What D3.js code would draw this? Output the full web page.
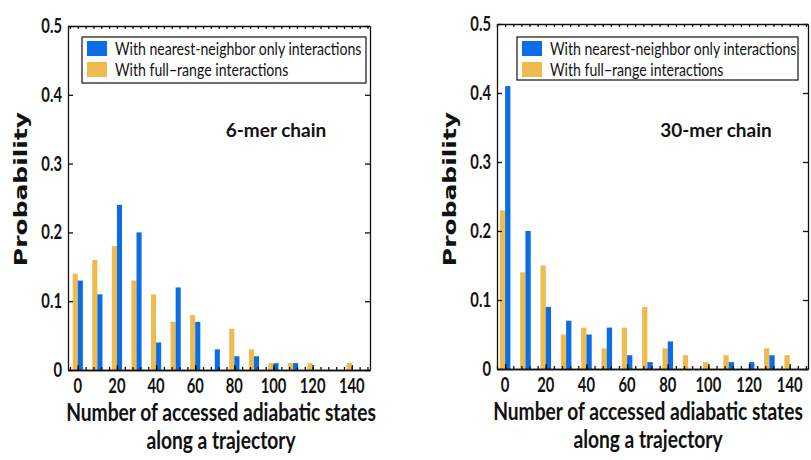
<!DOCTYPE html>
<html>
<head>
<meta charset="utf-8">
<script src="https://cdn.jsdelivr.net/npm/d3@7/dist/d3.min.js"></script>
<style>
  html, body { margin: 0; padding: 0; background: #fff; }
  svg { display: block; }
</style>
</head>
<body>
<svg id="chart" width="811" height="460"></svg>
<script>
// Number of accessed adiabatic states (bin starts)
const bins = [0, 10, 20, 30, 40, 50, 60, 70, 80, 90, 100, 110, 120, 130, 140];

// 6-mer chain
const sixMerNearest = [0.13, 0.11, 0.24, 0.20, 0.04, 0.12, 0.07, 0.03, 0.02, 0.02, 0.01, 0.01, 0, 0, 0];
const sixMerFull    = [0.14, 0.16, 0.18, 0.13, 0.11, 0.07, 0.08, 0, 0.06, 0.03, 0.01, 0.01, 0.01, 0, 0.01];

// 30-mer chain
const thirtyMerNearest = [0.41, 0.20, 0.09, 0.07, 0.05, 0.06, 0.02, 0.01, 0.04, 0, 0, 0.01, 0.01, 0.02, 0];
const thirtyMerFull    = [0.23, 0.14, 0.15, 0.05, 0.06, 0.03, 0.06, 0.09, 0.03, 0.02, 0.01, 0.02, 0, 0.03, 0.02];

const xTicks = [0, 20, 40, 60, 80, 100, 120, 140];
const yTicks = [0, 0.1, 0.2, 0.3, 0.4, 0.5];
const yTickLabels = ["0", "0.1", "0.2", "0.3", "0.4", "0.5"];

const seriesNames = ["With nearest-neighbor only interactions", "With full\u2212range interactions"];
const panelTitles = ["6-mer chain", "30-mer chain"];
const xLabelLines = ["Number of accessed adiabatic states", "along a trajectory"];
const yLabel = "Probability";

const BLUE = "#0a6de6";
const GOLD = "#edbb4e";
const FONT = "Lato, 'Open Sans', 'Liberation Sans', sans-serif";

const svg = d3.select("#chart");

// text drawn with a horizontal squeeze about its anchor point
function label(parent, x, y, str, opts) {
  const g = parent.append("g")
    .attr("transform", `translate(${x},${y}) scale(${opts.sx},1)`);
  return g.append("text")
    .attr("text-anchor", opts.anchor || "start")
    .attr("font-family", opts.family || FONT)
    .attr("font-size", opts.size)
    .attr("font-weight", opts.weight || 400)
    .attr("fill", "#111")
    .text(str);
}

function drawPanel(cfg) {
  const { left, right, top, bottom, xDomain, nearest, full, title, titleX, titleY, legend, yLabelX, xLabelX } = cfg;
  const g = svg.append("g");
  const x = d3.scaleLinear().domain(xDomain).range([left, right]);
  const y = d3.scaleLinear().domain([0, 0.5]).range([bottom, top]);
  const bw = 2.6; // bar width in data units

  // bars: full-range to the left of the bin position, nearest-neighbor to the right
  g.selectAll("rect.full").data(bins.map((b, i) => ({ b, v: full[i] })).filter(d => d.v > 0))
    .join("rect").attr("class", "full")
    .attr("x", d => x(d.b - bw)).attr("width", d => x(d.b) - x(d.b - bw))
    .attr("y", d => y(d.v)).attr("height", d => y(0) - y(d.v))
    .attr("fill", GOLD);
  g.selectAll("rect.near").data(bins.map((b, i) => ({ b, v: nearest[i] })).filter(d => d.v > 0))
    .join("rect").attr("class", "near")
    .attr("x", d => x(d.b)).attr("width", d => x(d.b + bw) - x(d.b))
    .attr("y", d => y(d.v)).attr("height", d => y(0) - y(d.v))
    .attr("fill", BLUE);

  // axes box with inward ticks
  const minor = d3.range(-4, xDomain[1], 4);
  const axB = d3.axisBottom(x).tickValues(minor).tickSizeInner(-3).tickSizeOuter(0).tickFormat("");
  const axT = d3.axisTop(x).tickValues(minor).tickSizeInner(-3).tickSizeOuter(0).tickFormat("");
  const axBMaj = d3.axisBottom(x).tickValues(xTicks).tickSizeInner(-5).tickSizeOuter(0).tickFormat("");
  const axL = d3.axisLeft(y).tickValues(yTicks).tickSizeInner(-5).tickSizeOuter(0).tickFormat("");
  const axR = d3.axisRight(y).tickValues(yTicks).tickSizeInner(-5).tickSizeOuter(0).tickFormat("");
  [[axB, `0,${bottom}`], [axBMaj, `0,${bottom}`], [axT, `0,${top}`], [axL, `${left},0`], [axR, `${right},0`]]
    .forEach(([ax, t]) => {
      const a = g.append("g").attr("transform", `translate(${t})`).call(ax);
      a.selectAll("path, line").attr("stroke", "#111").attr("stroke-width", 1.3);
    });

  // tick labels
  xTicks.forEach(t => label(g, x(t), bottom + 23, String(t), { anchor: "middle", size: 20, weight: 700, sx: 0.74 }));
  yTicks.forEach((t, i) => label(g, left - 6, y(t) + 7, yTickLabels[i], { anchor: "end", size: 20, weight: 700, sx: 0.74 }));

  // axis titles
  label(g, xLabelX, bottom + 51, xLabelLines[0], { anchor: "middle", size: 24, weight: 700, sx: 0.8 });
  label(g, xLabelX, bottom + 79, xLabelLines[1], { anchor: "middle", size: 24, weight: 700, sx: 0.8 });
  const yl = g.append("g")
    .attr("transform", `translate(${yLabelX},189) scale(0.72,1) rotate(-90)`);
  yl.append("text").attr("text-anchor", "middle")
    .attr("font-family", "'DejaVu Sans', sans-serif").attr("font-weight", 700)
    .attr("font-size", 25).attr("fill", "#111").text(yLabel);

  // panel title
  label(g, titleX, titleY, title, { anchor: "middle", size: 19, weight: 700, sx: 1 });

  // legend
  const L = legend;
  g.append("rect").attr("x", L.x).attr("y", L.y).attr("width", L.w).attr("height", L.h)
    .attr("fill", "#fff").attr("stroke", "#111").attr("stroke-width", 1.2);
  [BLUE, GOLD].forEach((c, i) => {
    g.append("rect").attr("x", L.x + 5).attr("y", L.y + 4 + i * 21).attr("width", 20).attr("height", 15).attr("fill", c);
    label(g, L.x + 33, L.y + 18 + i * 21, seriesNames[i], { size: 17, weight: 400, sx: 0.83 });
  });
}

drawPanel({
  left: 68, right: 370, top: 26, bottom: 370, xDomain: [-5, 149.3],
  nearest: sixMerNearest, full: sixMerFull,
  title: panelTitles[0], titleX: 276, titleY: 137,
  legend: { x: 82, y: 37, w: 284, h: 46 }, yLabelX: 27, xLabelX: 221
});
drawPanel({
  left: 497, right: 808, top: 24, bottom: 369, xDomain: [-4, 149],
  nearest: thirtyMerNearest, full: thirtyMerFull,
  title: panelTitles[1], titleX: 716, titleY: 137,
  legend: { x: 517, y: 37, w: 281, h: 43 }, yLabelX: 456, xLabelX: 648
});
</script>
</body>
</html>
